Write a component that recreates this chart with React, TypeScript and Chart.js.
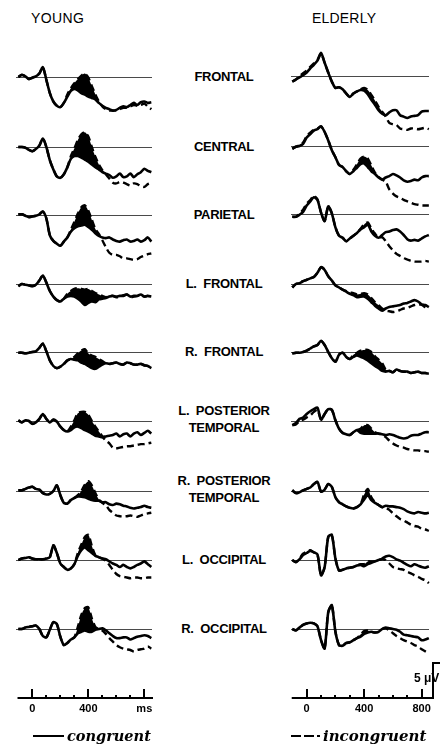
import React, { useEffect, useRef } from 'react';
import { Chart, registerables } from 'chart.js';

Chart.register(...registerables);

// Sample times (ms after word onset), one value every 25 ms
const TIMES = [-100, -75, -50, -25, 0, 25, 50, 75, 100, 125, 150, 175, 200, 225, 250, 275, 300, 325, 350, 375, 400, 425, 450, 475, 500, 525, 550, 575, 600, 625, 650, 675, 700, 725, 750, 775, 800, 825, 850];

// Window in which the congruity effect is shaded
const N400_WINDOW = [200, 600];

// Grand-average ERPs in microvolts (negative plotted up)
const youngFrontalCon = [0.0, -0.3, -0.1, 0.3, 0.1, -0.1, -0.5, -1.4, 0.4, 2.3, 3.5, 4.1, 4.3, 3.7, 2.8, 2.0, 1.7, 1.9, 2.3, 2.5, 2.8, 3.0, 3.2, 3.7, 4.1, 4.4, 4.6, 4.8, 4.7, 4.4, 4.2, 4.3, 4.0, 3.7, 4.0, 3.6, 3.5, 3.7, 3.6];
const youngFrontalInc = [0.0, -0.3, -0.1, 0.3, 0.1, -0.1, -0.5, -1.4, 0.4, 2.3, 3.5, 4.1, 4.3, 3.7, 2.5, 1.6, 0.9, 0.3, -0.2, -0.5, 0.1, 1.3, 2.5, 3.5, 4.2, 4.6, 4.8, 4.8, 4.8, 4.6, 4.4, 4.4, 4.2, 4.0, 4.1, 4.0, 3.8, 4.2, 4.6];
const youngCentralCon = [0.0, 0.0, 0.1, 0.4, 0.6, 0.3, -0.2, -1.2, 0.0, 1.9, 3.2, 4.2, 4.4, 3.9, 2.9, 1.7, 1.3, 1.3, 1.5, 1.8, 2.1, 2.5, 2.9, 3.2, 3.6, 3.8, 4.0, 4.4, 4.2, 3.8, 4.3, 4.2, 3.8, 4.3, 3.9, 3.6, 3.1, 3.4, 3.6];
const youngCentralInc = [0.0, 0.0, 0.1, 0.4, 0.6, 0.3, -0.2, -1.2, 0.0, 1.9, 3.2, 4.2, 4.4, 3.9, 2.9, 1.3, 0.2, -1.0, -1.8, -2.1, -1.5, 0.0, 1.4, 2.5, 3.3, 3.9, 4.5, 5.1, 5.2, 5.0, 5.1, 5.3, 5.5, 5.2, 5.3, 5.6, 5.7, 5.3, 5.1];
const youngParietalCon = [-0.1, -0.1, 0.1, 0.3, 0.2, 0.1, -0.1, -0.5, 0.5, 2.9, 3.7, 4.1, 4.4, 3.8, 3.2, 2.4, 1.9, 1.6, 1.5, 1.4, 1.7, 2.1, 2.6, 3.0, 3.2, 3.3, 3.2, 3.5, 3.7, 3.8, 3.6, 3.5, 3.8, 3.7, 3.5, 3.8, 3.6, 3.2, 3.8];
const youngParietalInc = [-0.1, -0.1, 0.1, 0.3, 0.2, 0.1, -0.1, -0.5, 0.5, 2.9, 3.7, 4.1, 4.4, 3.8, 3.2, 2.1, 1.0, -0.2, -1.1, -1.4, -0.6, 0.7, 2.0, 2.7, 3.6, 4.6, 5.4, 5.7, 5.7, 5.9, 6.2, 6.2, 6.3, 6.4, 6.3, 6.0, 5.8, 5.6, 5.5];
const youngLFrontalCon = [0.3, 0.0, 0.1, 0.2, 0.3, 0.1, -0.5, -1.2, -0.2, 1.0, 1.8, 2.3, 2.5, 2.1, 1.8, 1.7, 1.8, 2.1, 2.5, 3.0, 2.7, 2.5, 2.6, 2.2, 2.1, 2.0, 1.8, 1.7, 1.8, 1.7, 1.7, 1.5, 1.8, 1.7, 1.7, 1.5, 1.8, 1.7, 1.8];
const youngLFrontalInc = [0.3, 0.0, 0.1, 0.2, 0.3, 0.1, -0.5, -1.2, -0.2, 1.0, 1.8, 2.3, 2.5, 2.1, 1.4, 1.0, 0.7, 0.6, 0.7, 0.8, 0.7, 1.0, 1.3, 1.5, 1.7, 1.9, 1.7, 1.7, 1.9, 1.8, 1.6, 1.5, 1.9, 1.8, 1.7, 1.6, 1.8, 1.7, 1.9];
const youngRFrontalCon = [0.1, 0.1, 0.2, 0.1, 0.0, -0.1, -0.6, -1.2, -0.1, 1.2, 2.0, 2.3, 2.1, 1.7, 1.2, 1.0, 1.1, 1.2, 1.5, 1.7, 2.0, 2.3, 2.4, 2.1, 1.8, 1.6, 1.7, 1.6, 1.5, 1.7, 1.8, 1.5, 1.6, 1.8, 1.8, 1.7, 1.9, 2.0, 2.3];
const youngRFrontalInc = [0.1, 0.1, 0.2, 0.1, 0.0, -0.1, -0.6, -1.2, -0.1, 1.2, 2.0, 2.3, 2.1, 1.7, 1.2, 1.0, 0.7, 0.2, -0.2, -0.4, 0.2, 0.5, 0.7, 1.0, 1.3, 1.6, 1.7, 1.6, 1.5, 1.7, 1.8, 1.5, 1.6, 1.8, 1.8, 1.7, 1.9, 2.0, 2.3];
const youngLPostTempCon = [-0.1, 0.2, -0.1, 0.0, 0.4, 0.2, -0.3, -1.0, -0.3, 0.2, -0.2, 0.1, 0.8, 1.3, 1.5, 1.3, 0.9, 0.8, 1.0, 1.3, 1.5, 1.8, 2.1, 2.2, 2.3, 2.2, 2.1, 2.0, 1.8, 2.2, 1.9, 1.8, 2.2, 1.8, 1.6, 2.0, 1.7, 1.4, 1.8];
const youngLPostTempInc = [-0.1, 0.2, -0.1, 0.0, 0.4, 0.2, -0.3, -1.0, -0.3, 0.2, -0.2, 0.1, 0.8, 1.3, 1.5, 0.8, -0.1, -1.1, -1.3, -1.3, -0.9, 0.0, 0.8, 1.5, 2.2, 2.8, 3.2, 3.8, 3.9, 3.8, 3.7, 3.6, 3.6, 3.5, 3.4, 3.3, 3.3, 3.2, 3.1];
const youngRPostTempCon = [-0.1, -0.1, -0.3, -0.5, -0.6, -0.3, -0.2, 0.3, 0.5, 0.4, 0.0, -0.8, 0.6, 1.7, 1.8, 1.3, 1.0, 0.8, 0.8, 0.9, 1.1, 1.3, 1.4, 1.4, 1.6, 1.6, 1.9, 2.0, 1.8, 1.9, 2.1, 2.2, 2.4, 2.5, 2.4, 2.3, 2.1, 2.3, 2.4];
const youngRPostTempInc = [-0.1, -0.1, -0.3, -0.5, -0.6, -0.3, -0.2, 0.3, 0.5, 0.4, 0.0, -0.8, 0.6, 1.7, 1.8, 1.3, 1.0, 0.6, 0.0, -0.9, -1.4, -0.8, 0.3, 1.2, 1.7, 2.0, 2.7, 3.1, 3.5, 3.6, 3.7, 3.6, 3.5, 3.6, 3.7, 3.5, 3.3, 3.2, 3.1];
const youngLOccCon = [0.0, -0.2, -0.3, -0.4, -0.2, -0.1, -0.1, -0.1, -0.2, -0.4, -2.1, -1.0, 0.5, 1.0, 1.4, 1.2, 0.6, -0.6, -1.4, -1.8, -1.4, -1.0, -0.6, -0.4, -0.2, -0.1, 0.2, 0.5, 0.7, 1.0, 0.7, 1.0, 1.2, 1.0, 0.7, 0.5, 0.2, 0.6, 1.0];
const youngLOccInc = [0.0, -0.2, -0.3, -0.4, -0.2, -0.1, -0.1, -0.1, -0.2, -0.4, -2.1, -1.0, 0.5, 1.0, 1.4, 1.2, 0.6, -1.0, -2.2, -3.3, -3.6, -2.0, -0.7, -0.4, -0.2, 0.1, 0.7, 1.4, 2.0, 2.3, 2.4, 2.5, 2.6, 2.5, 2.5, 2.6, 2.6, 2.5, 2.5];
const youngROccCon = [0.0, 0.0, -0.2, -0.3, -0.4, -0.5, 0.0, 1.0, 1.2, 0.1, -1.0, -0.7, 1.1, 2.3, 2.0, 1.5, 1.2, 0.6, 0.4, 0.2, 0.4, 0.4, 0.1, 0.0, -0.1, 0.2, 0.6, 1.0, 1.3, 1.3, 1.2, 1.2, 1.5, 1.3, 1.1, 1.0, 0.9, 1.0, 1.3];
const youngROccInc = [0.0, 0.0, -0.2, -0.3, -0.4, -0.5, 0.0, 1.0, 1.2, 0.1, -1.0, -0.7, 1.1, 2.3, 2.0, 1.5, 1.2, -0.3, -2.0, -3.0, -3.1, -1.5, -0.3, 0.0, 0.2, 0.7, 1.3, 1.8, 2.3, 2.6, 2.8, 2.9, 3.0, 3.2, 3.0, 2.9, 2.8, 2.5, 2.8];

const elderlyFrontalCon = [0.8, 0.5, 0.2, -0.1, -0.5, -1.1, -1.6, -2.2, -3.3, -1.9, -0.5, 0.8, 1.7, 1.6, 1.9, 2.5, 3.0, 2.5, 2.2, 2.0, 2.1, 2.6, 3.4, 4.1, 4.9, 5.4, 5.6, 5.2, 4.9, 4.9, 5.6, 5.8, 6.0, 5.8, 5.7, 5.6, 5.1, 5.0, 5.0];
const elderlyFrontalInc = [0.8, 0.5, 0.0, -0.4, -0.8, -1.3, -1.8, -2.3, -3.2, -1.9, -0.5, 0.8, 1.7, 1.6, 1.9, 2.5, 3.0, 2.5, 2.2, 1.9, 1.7, 2.0, 2.7, 3.5, 4.4, 5.1, 5.8, 6.7, 6.9, 7.0, 7.5, 7.6, 7.7, 7.5, 7.5, 7.6, 7.5, 7.4, 7.6];
const elderlyCentralCon = [0.4, 0.1, 0.0, -0.3, -1.2, -1.7, -2.2, -2.4, -2.8, -2.0, -0.8, 0.6, 1.6, 2.7, 3.0, 3.6, 4.0, 3.6, 3.1, 2.6, 2.5, 3.0, 3.6, 4.0, 4.5, 4.8, 4.5, 4.3, 4.0, 4.2, 4.5, 4.9, 5.1, 5.0, 4.8, 4.9, 4.5, 4.3, 4.3];
const elderlyCentralInc = [0.4, 0.1, -0.1, -0.5, -1.4, -1.9, -2.3, -2.5, -2.8, -2.0, -0.8, 0.6, 1.6, 2.7, 3.0, 3.6, 4.0, 3.4, 2.6, 1.8, 1.5, 1.8, 2.8, 3.8, 4.4, 4.8, 5.1, 6.2, 6.8, 7.2, 7.4, 7.7, 7.9, 8.1, 8.3, 8.4, 8.5, 8.5, 8.5];
const elderlyParietalCon = [0.4, 0.4, 0.1, -0.3, -1.2, -1.8, -2.4, -2.0, -0.2, 1.0, -1.1, -0.1, 1.9, 3.1, 3.4, 3.9, 3.5, 3.1, 2.7, 2.2, 1.9, 1.5, 2.5, 3.1, 3.4, 3.0, 2.6, 2.5, 2.3, 2.2, 2.5, 3.0, 3.6, 3.8, 3.7, 3.8, 3.5, 3.2, 3.0];
const elderlyParietalInc = [0.4, 0.4, 0.0, -0.6, -1.5, -2.0, -2.6, -2.1, -0.2, 1.0, -1.1, -0.1, 1.9, 3.1, 3.4, 3.9, 3.5, 3.1, 2.7, 2.1, 1.5, 1.2, 2.1, 2.8, 3.4, 3.3, 3.9, 4.6, 5.2, 5.7, 6.0, 6.3, 6.5, 6.7, 6.8, 6.8, 6.8, 6.7, 6.8];
const elderlyLFrontalCon = [0.5, 0.0, -0.1, -0.4, -0.6, -0.8, -1.0, -1.6, -2.4, -2.0, -1.1, -0.5, 0.2, 0.5, 0.8, 1.1, 1.4, 1.6, 1.9, 1.8, 1.8, 2.1, 2.6, 3.1, 3.5, 3.8, 3.5, 3.3, 3.2, 3.1, 3.0, 2.8, 2.7, 2.5, 2.3, 2.5, 2.9, 3.0, 3.3];
const elderlyLFrontalInc = [0.5, 0.0, -0.1, -0.4, -0.6, -0.8, -1.0, -1.6, -2.4, -2.0, -1.1, -0.5, 0.2, 0.5, 0.8, 1.0, 1.2, 1.3, 1.5, 1.4, 1.3, 1.5, 2.0, 2.6, 3.0, 3.5, 3.8, 3.9, 4.0, 3.9, 3.7, 3.5, 3.4, 3.2, 3.0, 2.9, 3.0, 3.3, 3.5];
const elderlyRFrontalCon = [0.2, 0.1, 0.1, 0.0, -0.2, -0.5, -0.8, -1.0, -1.6, -1.0, 0.0, 0.9, 1.4, 0.4, 0.1, 0.7, 1.0, 0.7, 0.5, 0.7, 0.9, 1.2, 1.6, 2.0, 2.3, 2.7, 2.8, 2.7, 2.9, 2.5, 2.7, 2.8, 2.8, 3.0, 2.9, 2.8, 3.0, 3.0, 3.1];
const elderlyRFrontalInc = [0.2, 0.1, 0.1, 0.0, -0.2, -0.5, -0.8, -1.0, -1.6, -1.0, 0.0, 0.9, 1.4, 0.4, 0.1, 0.7, 1.0, 0.4, 0.1, -0.2, -0.3, -0.3, 0.0, 0.6, 1.1, 1.6, 2.5, 2.7, 2.9, 2.5, 2.7, 2.8, 2.8, 3.0, 2.9, 2.8, 3.0, 3.0, 3.1];
const elderlyLPostTempCon = [0.6, 0.3, -0.3, -0.5, -1.0, -1.4, -1.7, -1.9, -0.2, -1.0, -1.7, -1.6, -0.1, 1.1, 1.7, 1.9, 2.0, 1.6, 1.3, 1.7, 1.8, 1.8, 1.8, 1.8, 1.8, 1.9, 2.0, 1.9, 2.0, 2.2, 2.4, 2.5, 2.4, 2.1, 2.0, 2.0, 1.8, 1.6, 1.6];
const elderlyLPostTempInc = [0.6, 0.5, 0.0, -0.2, -0.5, -0.8, -1.3, -1.6, -0.2, -1.0, -1.7, -1.6, -0.1, 1.1, 1.7, 1.9, 2.0, 1.6, 1.3, 1.1, 0.6, 0.6, 1.1, 1.6, 1.8, 1.9, 2.3, 2.8, 3.2, 3.5, 3.7, 3.8, 4.0, 4.1, 4.2, 4.2, 4.3, 4.3, 4.4];
const elderlyRPostTempCon = [-0.1, 0.3, 0.2, -0.1, -0.3, -0.5, -1.0, -1.3, 0.1, -0.2, -1.0, -0.6, 0.9, 1.6, 1.9, 2.2, 2.4, 2.5, 2.3, 1.9, 1.2, 0.6, 1.3, 1.7, 2.0, 2.3, 2.1, 2.2, 2.2, 2.3, 2.4, 2.6, 2.9, 3.1, 3.2, 3.0, 3.1, 3.2, 3.1];
const elderlyRPostTempInc = [-0.1, 0.3, 0.2, -0.1, -0.3, -0.5, -1.0, -1.3, 0.1, -0.2, -1.0, -0.6, 0.9, 1.6, 1.9, 2.2, 2.4, 2.5, 2.3, 1.9, 0.5, -0.3, 0.9, 1.6, 2.0, 2.3, 2.4, 2.7, 3.2, 3.6, 4.0, 4.2, 4.5, 4.8, 5.0, 5.1, 5.4, 5.5, 5.7];
const elderlyLOccCon = [0.0, 0.3, -0.1, -0.7, -1.0, -1.3, -1.1, -0.8, 2.2, 1.0, -3.3, -3.6, -0.2, 1.5, 1.4, 1.2, 1.1, 1.0, 0.8, 0.7, 0.9, 0.6, 0.4, 0.2, 0.0, -0.2, -0.5, -0.6, -0.4, -0.1, 0.1, 0.4, 0.7, 0.9, 0.6, 0.8, 1.0, 1.1, 0.9];
const elderlyLOccInc = [0.0, 0.3, -0.2, -0.9, -1.2, -1.4, -1.1, -0.8, 2.2, 1.0, -3.3, -3.6, -0.2, 1.5, 1.4, 1.2, 1.1, 1.0, 0.8, 0.6, 0.6, 0.2, 0.2, 0.2, 0.0, -0.1, 0.0, 0.5, 1.0, 1.2, 1.3, 1.4, 1.7, 1.9, 2.2, 2.4, 2.7, 2.9, 3.3];
const elderlyROccCon = [0.0, 0.2, -0.2, -0.6, -0.8, -0.9, -0.8, -0.4, 1.6, 2.8, -2.4, -3.4, 0.4, 2.3, 2.4, 2.0, 1.9, 1.6, 1.3, 1.1, 0.7, 0.5, 0.4, 0.5, 0.4, 0.0, -0.2, -0.1, 0.0, 0.1, 0.4, 0.8, 0.9, 1.0, 1.1, 1.2, 1.6, 1.5, 1.3];
const elderlyROccInc = [0.0, 0.2, -0.2, -0.6, -0.8, -0.9, -0.8, -0.4, 1.6, 2.8, -2.4, -3.4, 0.4, 2.3, 2.4, 2.0, 1.9, 1.6, 1.3, 0.8, 0.3, 0.2, 0.4, 0.5, 0.4, 0.0, -0.1, 0.2, 0.6, 1.0, 1.3, 1.6, 1.8, 2.0, 2.3, 2.5, 2.9, 3.2, 3.5];

// Electrode sites, top to bottom
const SITES = ['FRONTAL', 'CENTRAL', 'PARIETAL', 'L.  FRONTAL', 'R.  FRONTAL', 'L.  POSTERIOR\nTEMPORAL', 'R.  POSTERIOR\nTEMPORAL', 'L.  OCCIPITAL', 'R.  OCCIPITAL'];

const YOUNG_CONGRUENT = [youngFrontalCon, youngCentralCon, youngParietalCon, youngLFrontalCon, youngRFrontalCon, youngLPostTempCon, youngRPostTempCon, youngLOccCon, youngROccCon];
const YOUNG_INCONGRUENT = [youngFrontalInc, youngCentralInc, youngParietalInc, youngLFrontalInc, youngRFrontalInc, youngLPostTempInc, youngRPostTempInc, youngLOccInc, youngROccInc];
const ELDERLY_CONGRUENT = [elderlyFrontalCon, elderlyCentralCon, elderlyParietalCon, elderlyLFrontalCon, elderlyRFrontalCon, elderlyLPostTempCon, elderlyRPostTempCon, elderlyLOccCon, elderlyROccCon];
const ELDERLY_INCONGRUENT = [elderlyFrontalInc, elderlyCentralInc, elderlyParietalInc, elderlyLFrontalInc, elderlyRFrontalInc, elderlyLPostTempInc, elderlyRPostTempInc, elderlyLOccInc, elderlyROccInc];

// Time axis
const AXIS_TICKS = [0, 100, 200, 300, 400, 500, 600, 700, 800];
const AXIS_MAJOR = [0, 400, 800];
const YOUNG_AXIS_LABELS = ['0', '400', 'ms'];
const ELDERLY_AXIS_LABELS = ['0', '400', '800'];
const CALIBRATION_UV = 5;

// Layout
const PX_PER_UV = 7;
const Y_MIN = -6;
const Y_MAX = 10;
const YOUNG_FRAME = { left: 15, width: 138, tMin: -124, tMax: 862, axisFrom: -106, axisTo: 862 };
const ELDERLY_FRAME = { left: 290, width: 140, tMin: -116, tMax: 858, axisFrom: -104, axisTo: 879 };
const YOUNG_ROW_Y = [77, 147, 215, 284, 352, 421, 491, 560, 629];
const ELDERLY_ROW_Y = [76, 146, 214, 284, 352, 421, 491, 560, 629];

const SANS = '"Liberation Sans", Arial, Helvetica, sans-serif';
const SERIF = '"DejaVu Serif", "Liberation Serif", serif';

const baselinePlugin = {
  id: 'baseline',
  beforeDatasetsDraw(chart: any) {
    const { ctx, chartArea, scales } = chart;
    const y = Math.round(scales.y.getPixelForValue(0)) + 0.5;
    ctx.save();
    ctx.strokeStyle = '#4a4a4a';
    ctx.lineWidth = 1;
    ctx.beginPath();
    ctx.moveTo(chartArea.left + 1, y);
    ctx.lineTo(chartArea.right - 1, y);
    ctx.stroke();
    ctx.restore();
  },
};

type Frame = typeof YOUNG_FRAME;

function Panel({ frame, baseY, con, inc }: { frame: Frame; baseY: number; con: number[]; inc: number[] }) {
  const ref = useRef<HTMLCanvasElement>(null);
  const height = (Y_MAX - Y_MIN) * PX_PER_UV;
  useEffect(() => {
    const toPoints = (vals: number[]) => TIMES.map((t, i) => ({ x: t, y: vals[i] }));
    // incongruent trace inside the effect window, congruent trace outside it
    const effect = inc.map((v, i) => (TIMES[i] >= N400_WINDOW[0] && TIMES[i] <= N400_WINDOW[1] ? v : con[i]));
    const chart = new Chart(ref.current as HTMLCanvasElement, {
      type: 'line',
      data: {
        datasets: [
          {
            label: 'congruent',
            data: toPoints(con),
            borderColor: '#000',
            borderWidth: 2.6,
            pointRadius: 0,
            fill: false,
            tension: 0.25,
          },
          {
            label: 'incongruent',
            data: toPoints(inc),
            borderColor: '#000',
            borderWidth: 2.4,
            borderDash: [7, 4],
            pointRadius: 0,
            fill: false,
            tension: 0.25,
          },
          {
            label: 'difference',
            data: toPoints(effect),
            borderColor: 'rgba(0,0,0,0)',
            borderWidth: 1,
            pointRadius: 0,
            tension: 0.25,
            fill: { target: 0, above: '#000', below: 'rgba(0,0,0,0)' },
          },
        ],
      } as any,
      options: {
        animation: false,
        responsive: false,
        events: [],
        layout: { padding: 0 },
        plugins: { legend: { display: false }, tooltip: { enabled: false } },
        scales: {
          x: { type: 'linear', min: frame.tMin, max: frame.tMax, display: false },
          y: { type: 'linear', min: Y_MIN, max: Y_MAX, reverse: true, display: false },
        },
      },
      plugins: [baselinePlugin],
    });
    return () => chart.destroy();
  }, [frame, con, inc]);
  return (
    <canvas
      ref={ref}
      width={frame.width}
      height={height}
      style={{ position: 'absolute', left: frame.left, top: baseY + Y_MIN * PX_PER_UV, width: frame.width, height }}
    />
  );
}

function TimeAxis({ frame, top, width, height, axisY, labels, calibration }: {
  frame: Frame; top: number; width: number; height: number; axisY: number; labels: string[]; calibration: boolean;
}) {
  const ref = useRef<HTMLCanvasElement>(null);
  useEffect(() => {
    const pxPerMs = frame.width / (frame.tMax - frame.tMin);
    const tMax = frame.tMin + width / pxPerMs;
    const axisPlugin = {
      id: 'timeAxis',
      afterDraw(chart: any) {
        const { ctx } = chart;
        const x = chart.scales.x;
        ctx.save();
        ctx.strokeStyle = '#000';
        ctx.fillStyle = '#000';
        ctx.lineWidth = 2;
        ctx.beginPath();
        ctx.moveTo(x.getPixelForValue(frame.axisFrom), axisY);
        ctx.lineTo(x.getPixelForValue(frame.axisTo), axisY);
        ctx.stroke();
        AXIS_TICKS.forEach((t) => {
          const px = Math.round(x.getPixelForValue(t));
          const len = AXIS_MAJOR.includes(t) ? 9 : 3;
          ctx.beginPath();
          ctx.moveTo(px, axisY);
          ctx.lineTo(px, axisY - len);
          ctx.stroke();
        });
        ctx.font = `bold 11px ${SANS}`;
        ctx.textAlign = 'center';
        ctx.textBaseline = 'top';
        AXIS_MAJOR.forEach((t, i) => ctx.fillText(labels[i], x.getPixelForValue(t), axisY + 5));
        if (calibration) {
          const bx = Math.round(x.getPixelForValue(frame.axisTo));
          const by = axisY - CALIBRATION_UV * PX_PER_UV;
          ctx.beginPath();
          ctx.moveTo(bx, axisY + 1);
          ctx.lineTo(bx, by);
          ctx.lineTo(bx + 7, by);
          ctx.stroke();
          ctx.font = `bold 12px ${SANS}`;
          ctx.textAlign = 'left';
          ctx.textBaseline = 'alphabetic';
          ctx.fillText(`${CALIBRATION_UV} μV`, bx - 19, by + 19);
        }
        ctx.restore();
      },
    };
    const chart = new Chart(ref.current as HTMLCanvasElement, {
      type: 'line',
      data: { datasets: [] },
      options: {
        animation: false,
        responsive: false,
        events: [],
        layout: { padding: 0 },
        plugins: { legend: { display: false }, tooltip: { enabled: false } },
        scales: {
          x: { type: 'linear', min: frame.tMin, max: tMax, display: false },
          y: { type: 'linear', min: 0, max: 1, display: false },
        },
      },
      plugins: [axisPlugin],
    });
    return () => chart.destroy();
  }, [frame, width, axisY, labels, calibration]);
  return (
    <canvas
      ref={ref}
      width={width}
      height={height}
      style={{ position: 'absolute', left: frame.left, top, width, height }}
    />
  );
}

function CenteredText({ x, y, children, style }: { x: number; y: number; children: React.ReactNode; style?: React.CSSProperties }) {
  return (
    <div
      style={{
        position: 'absolute',
        left: x - 60,
        top: y,
        width: 120,
        transform: 'translateY(-50%)',
        whiteSpace: 'pre',
        textAlign: 'center',
        color: '#000',
        ...style,
      }}
    >
      {children}
    </div>
  );
}

export default function App() {
  return (
    <div style={{ position: 'absolute', left: 0, top: 0, width: 443, height: 751, background: '#fff', overflow: 'hidden' }}>
      <div style={{ position: 'absolute', left: 31, top: 10, font: `14px ${SANS}`, lineHeight: '16px', letterSpacing: 0.4 }}>YOUNG</div>
      <div style={{ position: 'absolute', left: 312, top: 10, font: `14px ${SANS}`, lineHeight: '16px', letterSpacing: 0.2 }}>ELDERLY</div>

      {SITES.map((site, i) => (
        <CenteredText
          key={site}
          x={224}
          y={(YOUNG_ROW_Y[i] + ELDERLY_ROW_Y[i]) / 2 - (site.includes('\n') ? 2 : 1)}
          style={{ font: `bold 13px ${SANS}`, lineHeight: '17px', letterSpacing: -0.3 }}
        >
          {site}
        </CenteredText>
      ))}

      {SITES.map((site, i) => (
        <Panel key={`y-${site}`} frame={YOUNG_FRAME} baseY={YOUNG_ROW_Y[i]} con={YOUNG_CONGRUENT[i]} inc={YOUNG_INCONGRUENT[i]} />
      ))}
      {SITES.map((site, i) => (
        <Panel key={`e-${site}`} frame={ELDERLY_FRAME} baseY={ELDERLY_ROW_Y[i]} con={ELDERLY_CONGRUENT[i]} inc={ELDERLY_INCONGRUENT[i]} />
      ))}

      <TimeAxis frame={YOUNG_FRAME} top={680} width={138} height={40} axisY={18} labels={YOUNG_AXIS_LABELS} calibration={false} />
      <TimeAxis frame={ELDERLY_FRAME} top={650} width={153} height={70} axisY={48} labels={ELDERLY_AXIS_LABELS} calibration={true} />

      {/* key */}
      <div style={{ position: 'absolute', left: 33, top: 735, width: 31, borderTop: '2.5px solid #000' }} />
      <div style={{ position: 'absolute', left: 67, top: 728, font: `italic bold 14.5px ${SERIF}`, lineHeight: '16px' }}>congruent</div>
      <div style={{ position: 'absolute', left: 291, top: 735, width: 10, borderTop: '2px solid #000' }} />
      <div style={{ position: 'absolute', left: 304, top: 735, width: 10, borderTop: '2px solid #000' }} />
      <div style={{ position: 'absolute', left: 317, top: 735, width: 3, borderTop: '2px solid #000' }} />
      <div style={{ position: 'absolute', left: 323, top: 728, font: `italic bold 15px ${SERIF}`, lineHeight: '16px' }}>incongruent</div>
    </div>
  );
}
